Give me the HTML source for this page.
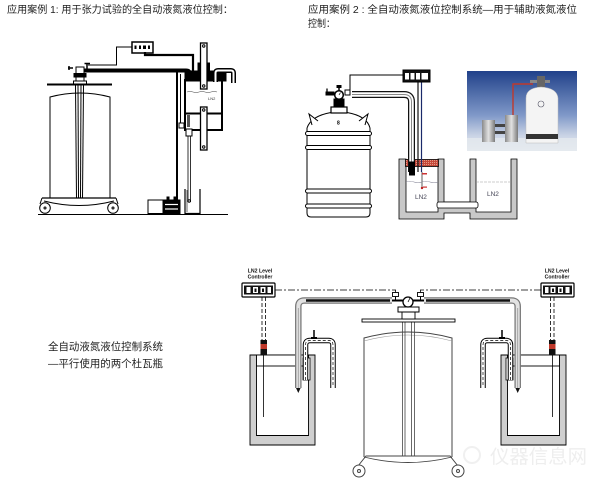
<!DOCTYPE html>
<html><head><meta charset="utf-8">
<style>
html,body{margin:0;padding:0;background:#fff;}
svg{display:block;}
text{font-family:"Liberation Sans","Noto Sans CJK SC",sans-serif;}
</style></head><body>
<svg width="602" height="491" viewBox="0 0 602 491" xmlns="http://www.w3.org/2000/svg">
<defs>
  <linearGradient id="sky" x1="0" y1="0" x2="0" y2="1">
    <stop offset="0" stop-color="#21418a"/>
    <stop offset="0.55" stop-color="#7f98c8"/>
    <stop offset="0.8" stop-color="#c8d2e4"/>
    <stop offset="1" stop-color="#eceff4"/>
  </linearGradient>
  <linearGradient id="steel" x1="0" y1="0" x2="1" y2="0">
    <stop offset="0" stop-color="#8a8a8a"/>
    <stop offset="0.5" stop-color="#e2e2e2"/>
    <stop offset="1" stop-color="#7a7a7a"/>
  </linearGradient>
  <pattern id="dots" width="2" height="2" patternUnits="userSpaceOnUse">
    <rect width="2" height="2" fill="#c4483a"/>
    <rect width="1" height="1" fill="#e39a88"/>
  </pattern>
</defs>
<rect width="602" height="491" fill="#fff"/>

<!-- Titles -->
<text x="7" y="13" font-size="10" fill="#1e1e1e" textLength="226" lengthAdjust="spacingAndGlyphs">应用案例 1: 用于张力试验的全自动液氮液位控制：</text>
<text x="308" y="13" font-size="10" fill="#1e1e1e" textLength="269" lengthAdjust="spacingAndGlyphs">应用案例 2 : 全自动液氮液位控制系统—用于辅助液氮液位</text>
<text x="308" y="27" font-size="10" fill="#1e1e1e" textLength="27" lengthAdjust="spacingAndGlyphs">控制：</text>
<text x="48" y="350" font-size="10.5" fill="#1e1e1e" textLength="115" lengthAdjust="spacingAndGlyphs">全自动液氮液位控制系统</text>
<text x="48" y="367" font-size="10.5" fill="#1e1e1e" textLength="115" lengthAdjust="spacingAndGlyphs">—平行使用的两个杜瓦瓶</text>

<!-- ============ TOP-LEFT DIAGRAM ============ -->
<g stroke="#000" fill="none" stroke-width="1">
  <line x1="38" y1="214.5" x2="228" y2="214.5"/>
  <path d="M50,198 V97 Q80,89 110,97 V198" fill="#fff"/>
  <line x1="47" y1="84.5" x2="112" y2="84.5" stroke-width="2"/>
  <line x1="75.5" y1="85" x2="76.5" y2="198"/>
  <line x1="78" y1="85" x2="78.5" y2="198"/>
  <line x1="81" y1="85" x2="80.5" y2="198"/>
  <line x1="83.5" y1="85" x2="82.5" y2="198"/>
  <rect x="76" y="67" width="8" height="16" fill="#fff"/>
  <rect x="74" y="73.5" width="12" height="3.5" fill="#000"/>
  <rect x="73.5" y="81" width="13" height="3" fill="#fff"/>
  <path d="M73,68 H68 M69,66 V70" stroke-width="1.5"/>
  <path d="M87,69 V64 M84.5,63.5 H90" stroke-width="1.5"/>
  <!-- cart -->
  <line x1="42" y1="198" x2="116" y2="198" stroke-width="1.2"/>
  <path d="M44,201 Q79,210 114,201"/>
  <path d="M42,198 L40,204 M116,198 L118,204"/>
  <circle cx="45" cy="208" r="5.3" fill="#fff"/>
  <circle cx="45" cy="208" r="1"/>
  <circle cx="113" cy="208" r="5.3" fill="#fff"/>
  <circle cx="113" cy="208" r="1"/>
  <!-- controller -->
  <path d="M132,47 H116.5 V65 H88"/>
  <rect x="132" y="42" width="21" height="11" fill="#fff" stroke-width="1.5"/>
  <rect x="134.5" y="45.5" width="2" height="3.5" fill="#000" stroke="none"/>
  <rect x="139" y="45.5" width="2" height="3.5" fill="#000" stroke="none"/>
  <rect x="143" y="45.5" width="3" height="3.5" fill="#000" stroke="none"/>
  <rect x="148" y="45.5" width="2" height="3.5" fill="#000" stroke="none"/>
  <path d="M145,52 V55 H193 V72" stroke-width="2.2"/>
  <!-- transfer pipe -->
  <path d="M84,70.5 H186 Q190,70.5 190,75 V86" stroke-width="4"/>
  <rect x="188" y="84" width="4" height="5" fill="#000"/>
  <line x1="177" y1="72" x2="177" y2="201" stroke-width="2"/>
  <line x1="180.5" y1="74" x2="180.5" y2="124"/>
  <rect x="179" y="123" width="5" height="5" fill="#fff"/>
  <line x1="184" y1="125.5" x2="186" y2="125.5"/>
  <!-- vessel -->
  <rect x="185" y="80" width="37" height="50" fill="#fff" stroke-width="2"/>
  <line x1="186" y1="113.5" x2="221" y2="113.5" stroke-width="2"/>
  <rect x="185" y="71" width="41" height="10" fill="#000"/>
  <path d="M187,92 q3,-1.2 6,0 t6,0 t6,0 t6,0 t6,0" stroke="#666" stroke-width="0.6"/>
  <!-- rods -->
  <rect x="198" y="63" width="2.5" height="8" fill="#000"/>
  <rect x="207" y="63" width="2.5" height="8" fill="#000"/>
  <rect x="200.5" y="43" width="6.5" height="46" fill="#fff" stroke-width="1.3"/>
  <circle cx="203.75" cy="46" r="1.2"/>
  <circle cx="203.75" cy="86" r="1.2"/>
  <rect x="200.5" y="107" width="6.5" height="43" fill="#fff" stroke-width="1.3"/>
  <circle cx="203.75" cy="110" r="1.2"/>
  <circle cx="203.75" cy="147" r="1.2"/>
  <!-- U tube -->
  <path d="M215.5,82 V73 Q215.5,70.5 218,70.5 H231 Q233.5,70.5 233.5,73 V83" stroke-width="5"/>
  <path d="M215.5,82 V73 Q215.5,70.5 218,70.5 H231 Q233.5,70.5 233.5,73 V83" stroke="#fff" stroke-width="2"/>
  <!-- lower tube -->
  <rect x="187" y="115" width="3" height="12" fill="#555" stroke="none"/>
  <rect x="186" y="129" width="6" height="7" fill="#fff"/>
  <line x1="188" y1="136" x2="188" y2="202" stroke-width="0.8"/>
  <line x1="190.5" y1="136" x2="190.5" y2="202" stroke-width="0.8"/>
  <circle cx="189.2" cy="201" r="1.2" fill="#fff"/>
  <path d="M185,189 V213.5 H200 V189" stroke-width="1.2"/>
  <path d="M187,190 V212" stroke-width="0.6"/>
  <!-- pump -->
  <rect x="148" y="200" width="15" height="13.5" fill="#fff"/>
  <rect x="163" y="200" width="17" height="13.5" fill="#000"/>
  <line x1="165" y1="204.5" x2="178" y2="204.5" stroke="#fff" stroke-width="1.2"/>
  <line x1="165" y1="209" x2="178" y2="209" stroke="#fff" stroke-width="1.2"/>
  <rect x="167" y="197" width="2" height="3" fill="#000"/>
  <rect x="174" y="197" width="2" height="3" fill="#000"/>
</g>
<text x="208" y="100" font-size="4" fill="#333">LN2</text>

<!-- ============ TOP-RIGHT DIAGRAM ============ -->
<g stroke="#000" fill="none" stroke-width="1">
  <path d="M307,128 Q311,116 331,112.5 H347 Q367,116 370,128" fill="#fff"/>
  <path d="M307,128 V213 Q307,217 311,217 H366 Q370,217 370,213 V128" fill="#fff"/>
  <rect x="305.5" y="131.5" width="66" height="4" rx="2" fill="#fff"/>
  <rect x="305.5" y="145.5" width="66" height="4" rx="2" fill="#fff"/>
  <rect x="305.5" y="189" width="66" height="4" rx="2" fill="#fff"/>
  <rect x="305.5" y="204" width="66" height="4" rx="2" fill="#fff"/>
  <path d="M312,125 L309,114 L318,121" fill="#fff"/>
  <path d="M365,125 L368,114 L359,121" fill="#fff"/>
  <rect x="331" y="107" width="16" height="6" fill="#fff" stroke-width="1.2"/>
  <rect x="334" y="99" width="10" height="8" fill="#000"/>
  <rect x="326" y="92" width="8" height="3" fill="#000"/>
  <line x1="327" y1="88.5" x2="327" y2="92" stroke-width="1.3"/>
  <rect x="345" y="90" width="5" height="5" fill="#fff"/>
  <line x1="339" y1="86.5" x2="339" y2="91" stroke-width="1.5"/>
  <rect x="337" y="85.5" width="4" height="2" fill="#000"/>
  <circle cx="339" cy="95" r="4.3" fill="#fff" stroke-width="1.5"/>
  <line x1="339" y1="95" x2="340.5" y2="92.5" stroke-width="0.7"/>
  <path d="M403,75 H350 V90"/>
  <!-- vessels -->
  <path d="M399,159 V219 H444 V213 H470 V219 H517 V159 H511 V212 H476 V159 H470 V202 H444 V159 H438 V212 H406 V159 Z" fill="#c8c8c8" stroke-width="0.8"/>
  <rect x="437" y="202" width="41" height="6" rx="2" fill="#fff" stroke-width="0.8"/>
  <rect x="405.5" y="159.5" width="33" height="7" fill="url(#dots)" stroke-width="0.8"/>
  <!-- pipe -->
  <path d="M352,94.5 H404 Q411.5,94.5 411.5,102 V172" stroke="#111" stroke-width="7"/>
  <path d="M352,94.5 H404 Q411.5,94.5 411.5,102 V172" stroke="#fff" stroke-width="4.5"/>
  <path d="M352,94.5 H404 Q411.5,94.5 411.5,102 V172" stroke="#888" stroke-width="1"/>
  <rect x="409.5" y="162" width="5" height="13" fill="#000"/>
  <line x1="418" y1="82" x2="418" y2="172" stroke="#111" stroke-width="1.2"/>
  <line x1="421.5" y1="82" x2="421.5" y2="172" stroke="#1a2a6a" stroke-width="1.2"/>
  <line x1="422" y1="172" x2="422" y2="188" stroke="#333" stroke-width="0.8"/>
  <circle cx="422" cy="188" r="1.2" fill="#b22" stroke="none"/>
  <rect x="422" y="173" width="5" height="1.5" fill="#c33" stroke="none"/>
  <rect x="423" y="186.5" width="4" height="1.2" fill="#c33" stroke="none"/>
  <!-- controller -->
  <rect x="403" y="70" width="27" height="12" fill="#111"/>
  <rect x="405" y="73" width="23" height="6.5" fill="#fff" stroke="none"/>
  <rect x="409" y="73" width="1.5" height="6.5" fill="#111" stroke="none"/>
  <rect x="414.5" y="73" width="1.5" height="6.5" fill="#111" stroke="none"/>
  <rect x="420" y="73" width="1.5" height="6.5" fill="#111" stroke="none"/>
  <!-- liquid -->
  <path d="M406,182 q4,-1.5 8,0 t8,0 t8,0 t8,0" stroke="#889" stroke-width="0.6"/>
  <line x1="476" y1="182" x2="511" y2="182" stroke="#999" stroke-width="0.6" stroke-dasharray="3,1"/>
</g>
<text x="337" y="124.5" font-size="5" font-weight="bold" fill="#000">8</text>
<text x="415" y="199" font-size="6.5" fill="#445">LN2</text>
<text x="487" y="196" font-size="6.5" fill="#445">LN2</text>

<!-- ============ PHOTO ============ -->
<rect x="467" y="71" width="110" height="80" fill="url(#sky)"/>
<rect x="467" y="138" width="110" height="13" fill="#e4e8ee" opacity="0.8"/>
<path d="M513,117 V84 H533" stroke="#c0392b" stroke-width="1.4" fill="none"/>
<rect x="530" y="80" width="20" height="3" fill="#888"/>
<rect x="537" y="76" width="8" height="11" fill="#666"/>
<path d="M526,143 V98 Q526,88 541,87 Q557,88 558,98 V143 Z" fill="#f4f4f4" stroke="#bbb" stroke-width="0.5"/>
<rect x="526" y="134" width="32" height="5" fill="#333"/>
<circle cx="541" cy="104" r="3" fill="none" stroke="#556" stroke-width="0.6"/>
<rect x="482" y="120" width="13" height="22" fill="url(#steel)"/>
<rect x="505" y="115" width="13" height="27" fill="url(#steel)"/>
<rect x="495" y="124" width="10" height="3" fill="#444"/>
<rect x="495" y="131" width="10" height="3" fill="#444"/>

<!-- ============ BOTTOM DIAGRAM ============ -->
<g stroke="#000" fill="none">
  <path d="M364,457 V338 Q408,326 452,338 V457" stroke="#444" stroke-width="1" fill="#fff"/>
  <path d="M364,341 Q408,329 452,341" stroke="#999" stroke-width="0.6"/>
  <line x1="402.5" y1="322" x2="402.5" y2="456" stroke="#444" stroke-width="0.8"/>
  <line x1="405" y1="322" x2="405" y2="456" stroke="#444" stroke-width="0.8"/>
  <line x1="411.5" y1="322" x2="411.5" y2="456" stroke="#444" stroke-width="0.8"/>
  <line x1="414.5" y1="322" x2="414.5" y2="456" stroke="#444" stroke-width="0.8"/>
  <rect x="362" y="319" width="93" height="3" fill="#fff" stroke-width="0.9"/>
  <rect x="402" y="312" width="13" height="7" fill="#fff" stroke-width="0.9"/>
  <rect x="398" y="307" width="21" height="5" fill="#fff" stroke-width="1"/>
  <path d="M392,300.5 H403 M413,300.5 H424" stroke-width="2"/>
  <circle cx="408" cy="302" r="5" fill="#fff" stroke-width="1.3"/>
  <line x1="408" y1="302" x2="410" y2="298" stroke-width="0.8"/>
  <path d="M358,466 L366,456 H450 L458,466" stroke="#444" stroke-width="1"/>
  <path d="M364,457 Q408,468 452,457" stroke="#444" stroke-width="0.9"/>
  <circle cx="359" cy="471" r="6" fill="#fff" stroke="#444"/>
  <circle cx="359" cy="471" r="1.5" stroke="#444"/>
  <circle cx="458" cy="471" r="6" fill="#fff" stroke="#444"/>
  <circle cx="458" cy="471" r="1.5" stroke="#444"/>
</g>

<g id="half" fill="none" stroke="#000">
  <!-- controller -->
  <rect x="242" y="283" width="33" height="14" rx="1" fill="#fff" stroke-width="1.2"/>
  <rect x="244" y="285.5" width="29" height="9" fill="#111" stroke="none"/>
  <rect x="246.5" y="287" width="4" height="6" fill="#fff" stroke="none"/>
  <rect x="253" y="287" width="5" height="6" fill="#fff" stroke="none"/>
  <rect x="260.5" y="287" width="5" height="6" fill="#fff" stroke="none"/>
  <rect x="267.5" y="287" width="3.5" height="6" fill="#fff" stroke="none"/>
  <rect x="254.5" y="288.5" width="2" height="3.5" fill="#111" stroke="none"/>
  <rect x="262" y="288.5" width="2" height="3.5" fill="#111" stroke="none"/>
  <!-- dashed signal line -->
  <line x1="275" y1="290" x2="396" y2="290" stroke-width="0.8" stroke-dasharray="7,2,2,2"/>
  <line x1="395.5" y1="290" x2="395.5" y2="293" stroke-width="0.8"/>
  <rect x="392.5" y="292.5" width="6" height="4" fill="#fff" stroke-width="0.9"/>
  <line x1="395.5" y1="296.5" x2="395.5" y2="300" stroke-width="1"/>
  <!-- probe -->
  <line x1="262" y1="297" x2="262" y2="341" stroke-width="0.8" stroke-dasharray="4,2"/>
  <line x1="265.5" y1="297" x2="265.5" y2="341" stroke-width="0.8" stroke-dasharray="4,2"/>
  <!-- vessel -->
  <path d="M250,355 V445 H315 V355 H308.5 V435.5 H256.5 V355 Z" fill="#cfcfcf" stroke-width="0.9"/>
  <line x1="250" y1="355" x2="315" y2="355" stroke-width="0.9"/>
  <rect x="256.5" y="355" width="52" height="11" fill="#fff" stroke-width="0.9"/>
  <rect x="303" y="358" width="7" height="22" fill="#fff" stroke-width="0.8"/>
  <rect x="260.5" y="340" width="6.5" height="4" fill="#111" stroke="none"/>
  <rect x="260.5" y="344" width="6.5" height="5" fill="#c0392b" stroke="none"/>
  <rect x="260.5" y="349" width="6.5" height="6" fill="#111" stroke="none"/>
  <line x1="263.5" y1="355" x2="263.5" y2="417" stroke-width="0.8"/>
  <!-- vent U-tube -->
  <line x1="314" y1="330" x2="314" y2="338" stroke-width="1.5"/>
  <path d="M305.5,380 V345 Q305.5,340.5 310,340.5 H328.5 Q333,340.5 333,345 V388" stroke-width="5.5"/>
  <path d="M305.5,380 V345 Q305.5,340.5 310,340.5 H328.5 Q333,340.5 333,345 V388" stroke="#fff" stroke-width="3.5"/>
  <path d="M305.5,380 V345 Q305.5,340.5 310,340.5 H328.5 Q333,340.5 333,345 V387" stroke-width="0.7" stroke-dasharray="3,2"/>
  <rect x="311" y="337" width="6" height="2" fill="#000" stroke="none"/>
  <!-- transfer pipe -->
  <path d="M392,300.5 H304.5 Q298.3,300.5 298.3,306.5 V388" stroke="#777" stroke-width="6.5"/>
  <path d="M392,300.5 H304.5 Q298.3,300.5 298.3,306.5 V388" stroke="#e2e2e2" stroke-width="4"/>
  <path d="M298.3,308 V388" stroke="#999" stroke-width="0.8"/>
  <path d="M390,300.5 H306" stroke="#111" stroke-width="2.5"/>
  <path d="M296,388 L300.6,388 L298.3,393 Z" fill="#111" stroke="none"/>
</g>
<use href="#half" transform="translate(816,0) scale(-1,1)"/>

<text x="260" y="272.5" font-size="5.2" font-weight="bold" fill="#111" text-anchor="middle">LN2 Level</text>
<text x="260" y="278.5" font-size="5.2" font-weight="bold" fill="#111" text-anchor="middle">Controller</text>
<text x="557" y="272.5" font-size="5.2" font-weight="bold" fill="#111" text-anchor="middle">LN2 Level</text>
<text x="557" y="278.5" font-size="5.2" font-weight="bold" fill="#111" text-anchor="middle">Controller</text>

<!-- watermark -->
<circle cx="472" cy="455" r="8" fill="none" stroke="#f0f0f0" stroke-width="2"/>
<text x="490" y="463" font-size="19" fill="#eeeeee" textLength="97" lengthAdjust="spacingAndGlyphs">仪器信息网</text>
</svg>
</body></html>
